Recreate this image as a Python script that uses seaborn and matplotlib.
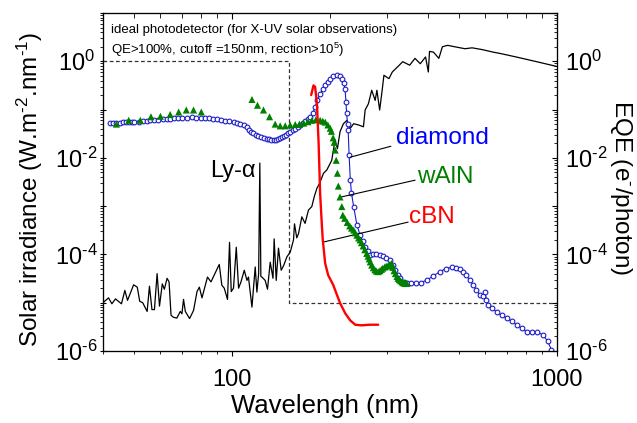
import numpy as np
import pandas as pd
import matplotlib
matplotlib.use("Agg")
import matplotlib.pyplot as plt
import seaborn as sns
from matplotlib.ticker import LogLocator, FuncFormatter, NullFormatter

# ---------------- data ----------------
ideal_wl = [40, 150, 150, 1000]
ideal_val = [1.0, 1.0, 1e-5, 1e-5]

solar_wl = [40, 41.6, 42.6, 43.7, 45.6, 46.7, 47.6, 49.7, 51.0, 51.9,
            53.0, 54.7, 55.6, 56.6, 57.6, 58.7, 59.7, 60.9, 61.8, 63.0,
            63.9, 64.8, 65.9, 67.5, 69.2, 70.0, 70.8, 71.7, 73.9, 76.0,
            77.9, 79.2, 80.7, 83.9, 86.0, 91.2, 92.9, 94.5, 96.7, 98.1,
            99.3, 100.9, 102.9, 104.6, 106.4, 108.9, 111.0, 112.2, 115.0, 117.7,
            119.1, 120.6, 121.6, 122.5, 123.4, 126.3, 128.4, 130.9, 133.5, 134.6,
            136.6, 138.8, 141.5, 144.0, 147.3, 150.9, 154.4, 155.5, 158.0, 160.0,
            163.8, 167.6, 171.7, 175.8, 179.0, 182.3, 185.7, 191.0, 195.5, 202.5,
            207.3, 210.8, 214.8, 220.0, 225.6, 230.9, 236.5, 244.8, 253.5, 256.6,
            262.6, 268.8, 275.5, 278.9, 284.4, 289.5, 293.1, 303.8, 311.1, 326.8,
            334.9, 351.9, 365.3, 379.3, 393.8, 401.6, 405.0, 416.5, 432.7, 443.7,
            460.7, 483.9, 520.9, 547.7, 590.0, 635.0, 669.0, 748.0, 866.0, 1000.0]
solar_val = [1.0e-5, 1.26e-5, 9.5e-6, 1.2e-5, 9.5e-6, 1.8e-5, 1.12e-5, 2.35e-5, 2.1e-5, 1.07e-5,
             1.0e-5, 6.6e-6, 2.2e-5, 7.2e-6, 7.2e-6, 4.0e-5, 8.5e-6, 2.45e-5, 1.9e-5, 3.2e-5,
             2.7e-5, 5.5e-6, 5.0e-6, 4.8e-6, 6.6e-6, 5.9e-6, 1.17e-5, 6.6e-6, 4.7e-6, 6.9e-6,
             1.7e-5, 2.1e-5, 1.26e-5, 3.4e-5, 2.7e-5, 6.2e-5, 2.3e-5, 2.0e-5, 1.17e-5, 1.78e-4,
             1.7e-5, 2.0e-5, 1.41e-4, 2.0e-5, 2.7e-5, 4.7e-5, 2.9e-5, 3.4e-5, 8.1e-6, 5.5e-5,
             1.66e-5, 4.0e-5, 7.8e-3, 3.5e-5, 3.4e-5, 2.9e-5, 1.9e-5, 6.9e-5, 3.2e-5, 2.1e-4,
             2.9e-5, 1.35e-4, 4.7e-5, 5.9e-5, 8.9e-5, 1.12e-4, 2.0e-4, 4.3e-4, 2.2e-4, 2.7e-4,
             6.0e-4, 4.4e-4, 8.3e-4, 9.8e-4, 1.6e-3, 2.35e-3, 2.95e-3, 4.8e-3, 5.6e-3, 8.9e-3,
             2.35e-2, 1.55e-2, 3.5e-2, 5.1e-2, 6.0e-2, 4.1e-2, 5.1e-2, 4.8e-2, 4.4e-2, 9.8e-2,
             0.132, 0.251, 0.155, 0.251, 0.098, 0.251, 0.513, 0.437, 0.60, 0.83,
             0.98, 0.83, 1.15, 0.89, 1.23, 0.60, 1.6, 1.55, 1.15, 2.0,
             2.14, 2.0, 1.82, 1.9, 1.74, 1.55, 1.45, 1.23, 0.98, 0.78]

diamond_wl = [42, 43, 44, 45, 46, 47, 48, 49, 50, 51.5,
              53, 54.5, 56, 57.5, 59, 61, 63, 64.5, 66, 68,
              70, 72.5, 75, 77.5, 80, 82.5, 85, 87.5, 90, 92.5,
              95, 98, 101, 103.5, 106, 108.5, 111, 113, 114.5, 116,
              118, 120, 122.5, 125, 127.5, 130, 132, 134, 136, 138,
              140, 142, 144, 146, 148.5, 151, 153.5, 156, 159, 162,
              165, 168, 171, 174, 177, 180, 183, 186.5, 190, 193,
              197, 200, 205, 210, 214, 217.6, 220.5, 222.5, 224, 225,
              226.5, 227.5, 229, 231, 232.8, 236.5, 242, 247.6, 252, 256.6,
              261, 265.7, 271, 278, 285, 291, 298, 306, 312, 318,
              323, 329, 337, 345, 355, 367, 380, 398, 415, 436,
              455, 474, 490, 503, 515, 526, 538, 552, 565, 579,
              590, 600, 606, 614, 632, 652, 675, 700, 725, 751,
              778, 806, 836, 866, 906, 935, 961]
diamond_val = [5.25e-2, 5.25e-2, 5.3e-2, 5.35e-2, 5.4e-2, 5.4e-2, 5.45e-2, 5.5e-2, 5.5e-2, 5.6e-2,
               5.75e-2, 5.9e-2, 6.0e-2, 6.1e-2, 6.2e-2, 6.35e-2, 6.45e-2, 6.5e-2, 6.6e-2, 6.7e-2,
               6.8e-2, 6.85e-2, 6.9e-2, 6.85e-2, 6.8e-2, 6.7e-2, 6.6e-2, 6.45e-2, 6.3e-2, 6.1e-2,
               5.9e-2, 5.7e-2, 5.5e-2, 5.25e-2, 5.0e-2, 4.75e-2, 4.4e-2, 3.8e-2, 3.4e-2, 3.2e-2,
               3.0e-2, 2.8e-2, 2.7e-2, 2.6e-2, 2.5e-2, 2.4e-2, 2.37e-2, 2.35e-2, 2.38e-2, 2.45e-2,
               2.55e-2, 2.7e-2, 2.85e-2, 3.0e-2, 3.25e-2, 3.5e-2, 3.75e-2, 4.0e-2, 4.4e-2, 4.8e-2,
               5.25e-2, 5.75e-2, 6.4e-2, 7.1e-2, 8.5e-2, 0.112, 0.158, 0.214, 0.263, 0.316,
               0.38, 0.437, 0.49, 0.513, 0.49, 0.437, 0.355, 0.27, 0.141, 0.083,
               0.05, 0.037, 1.15e-2, 3.5e-3, 1.9e-3, 9.8e-4, 4.1e-4, 2.5e-4, 1.86e-4, 1.45e-4,
               1.17e-4, 9.8e-5, 1.0e-4, 1.0e-4, 9.8e-5, 9.3e-5, 8.5e-5, 7.6e-5, 6.0e-5, 4.8e-5,
               3.8e-5, 3.2e-5, 2.7e-5, 2.5e-5, 2.5e-5, 2.5e-5, 2.6e-5, 2.95e-5, 3.55e-5, 4.4e-5,
               5.1e-5, 5.4e-5, 5.25e-5, 4.9e-5, 4.4e-5, 3.7e-5, 3.0e-5, 2.35e-5, 1.8e-5, 1.45e-5,
               1.4e-5, 1.7e-5, 1.12e-5, 8.9e-6, 7.6e-6, 6.45e-6, 5.5e-6, 4.8e-6, 4.1e-6, 3.5e-6,
               2.95e-6, 2.5e-6, 2.5e-6, 2.5e-6, 2.15e-6, 1.6e-6, 1.07e-6]

waln_wl = [44.0, 48.0, 52.1, 56.2, 60.1, 64.4, 68.4, 72.2, 76.0, 80.3,
           115.0, 119.6, 124.8, 130.3, 135.6, 140.5, 145.6, 150.8, 156.3, 161,
           166, 171, 176, 181, 186.5, 190, 193.3, 197, 200.3, 202,
           204.5, 206, 207.5, 209, 210.8, 212.2, 214.7, 217.5, 219, 222,
           226, 230, 233, 236.5, 239, 242, 245, 247.6, 250, 253,
           256, 259.6, 262, 264, 266, 268.8, 272, 275, 278, 281.5,
           285, 288, 291, 295, 298, 302, 306, 309.6, 312, 315,
           318, 321.6, 324, 327, 330, 333.3, 336, 339, 342, 345]
waln_val = [5.0e-2, 6.0e-2, 6.0e-2, 7.1e-2, 7.25e-2, 7.9e-2, 8.9e-2, 9.8e-2, 9.8e-2, 8.9e-2,
            0.162, 0.123, 0.098, 0.071, 0.050, 0.046, 0.046, 0.048, 0.049, 0.050,
            0.0525, 0.056, 0.060, 0.062, 0.060, 0.0575, 0.055, 0.048, 0.041, 0.0355,
            0.026, 0.021, 0.0145, 8.9e-3, 4.8e-3, 2.6e-3, 1.55e-3, 9.8e-4, 6.5e-4, 5.6e-4,
            4.6e-4, 3.9e-4, 3.5e-4, 3.2e-4, 2.8e-4, 2.5e-4, 2.2e-4, 2.0e-4, 1.75e-4, 1.5e-4,
            1.25e-4, 1.05e-4, 9.2e-5, 8.1e-5, 7.0e-5, 6.0e-5, 5.3e-5, 4.8e-5, 4.5e-5, 4.4e-5,
            4.6e-5, 4.9e-5, 5.2e-5, 5.5e-5, 5.7e-5, 5.9e-5, 6.2e-5, 6.5e-5, 5.4e-5, 4.6e-5,
            4.0e-5, 3.5e-5, 3.2e-5, 3.0e-5, 2.85e-5, 2.7e-5, 2.6e-5, 2.55e-5, 2.5e-5, 2.5e-5]

cbn_wl = [175.0, 177.9, 180.0, 182.3, 184.5, 186.5, 188.8, 190.0, 193.3, 197.5,
          204.5, 214.8, 222.9, 230.9, 239.2, 250, 265, 281.5]
cbn_val = [0.20, 0.316, 0.295, 0.132, 0.020, 1.8e-3, 4.0e-4, 2.0e-4, 6.5e-5, 3.7e-5,
           2.35e-5, 9.8e-6, 6.0e-6, 4.3e-6, 3.5e-6, 3.4e-6, 3.5e-6, 3.5e-6]

HY = "\u2010"  # short hyphen used in the superscripts
box_lines = ["ideal photodetector (for X-UV solar observations)",
             "QE>100%, cutoff =150nm, rection>10$^5$)"]

# ---------------- style ----------------
sns.set_style("ticks")
plt.rcParams.update({
    "font.family": ["Liberation Sans", "DejaVu Sans"],
    "mathtext.fontset": "custom",
    "mathtext.rm": "Liberation Sans",
    "mathtext.it": "Liberation Sans:italic",
    "mathtext.bf": "Liberation Sans:bold",
    "mathtext.fallback": "stixsans",
    "axes.edgecolor": "black",
    "axes.linewidth": 0.8,
    "text.color": "black",
    "axes.labelcolor": "black",
    "xtick.color": "black",
    "ytick.color": "black",
})

fig = plt.figure(figsize=(6.37, 4.23), dpi=100)
ax = fig.add_axes([103 / 637, 72 / 423, 454 / 637, 338 / 423])
ax.set_xscale("log")
ax.set_yscale("log")

df_ideal = pd.DataFrame({"wl": ideal_wl, "v": ideal_val})
df_solar = pd.DataFrame({"wl": solar_wl, "v": solar_val})
df_dia = pd.DataFrame({"wl": diamond_wl, "v": diamond_val})
df_waln = pd.DataFrame({"wl": waln_wl, "v": waln_val})
df_cbn = pd.DataFrame({"wl": cbn_wl, "v": cbn_val})

sns.lineplot(data=df_ideal, x="wl", y="v", ax=ax, estimator=None, sort=False,
             color="#333333", lw=0.9, legend=False, linestyle=(0, (3, 2)))
sns.lineplot(data=df_solar, x="wl", y="v", ax=ax, estimator=None, sort=False,
             color="black", lw=0.9, legend=False)
sns.lineplot(data=df_dia, x="wl", y="v", ax=ax, estimator=None, sort=False,
             color="#1c1cc8", lw=0.8, marker="o", markersize=3.4,
             markerfacecolor="white", markeredgecolor="#1c1cc8", markeredgewidth=0.8,
             legend=False)
sns.scatterplot(data=df_waln, x="wl", y="v", ax=ax, marker="^", s=26,
                color="#008000", edgecolor="none", legend=False, zorder=4)
sns.lineplot(data=df_cbn, x="wl", y="v", ax=ax, estimator=None, sort=False,
             color="#ff0000", lw=1.7, legend=False, zorder=5)

ax.set_xlim(40, 1000)
ax.set_ylim(1e-6, 10)


def yfmt(v, p):
    e = int(round(np.log10(v)))
    if e % 2:
        return ""
    s = str(e).replace("-", HY)
    return f"$10^{{{s}}}$"


# ticks: bottom/left
ax.xaxis.set_major_locator(LogLocator(base=10, numticks=10))
ax.xaxis.set_minor_locator(LogLocator(base=10, subs=np.arange(2, 10), numticks=100))
ax.xaxis.set_major_formatter(FuncFormatter(lambda v, p: f"{v:g}"))
ax.xaxis.set_minor_formatter(NullFormatter())
ax.yaxis.set_major_locator(LogLocator(base=10, subs=(1.0,), numticks=20))
ax.yaxis.set_minor_locator(LogLocator(base=10, subs=np.arange(2, 10), numticks=100))
ax.yaxis.set_major_formatter(FuncFormatter(yfmt))
ax.yaxis.set_minor_formatter(NullFormatter())
ax.tick_params(axis="x", which="major", direction="out", length=3.6, width=0.8,
               labelsize=17, pad=9)
ax.tick_params(axis="x", which="minor", direction="out", length=2.2, width=0.6)
ax.tick_params(axis="y", which="major", direction="inout", length=5, width=0.8,
               labelsize=17, pad=16.5)
ax.tick_params(axis="y", which="minor", direction="out", length=2.0, width=0.6)
for lbl in ax.get_yticklabels():
    lbl.set_horizontalalignment("center")

# right axis (EQE)
ax2 = ax.twinx()
ax2.set_yscale("log")
ax2.set_ylim(ax.get_ylim())
ax2.yaxis.set_major_locator(LogLocator(base=10, subs=(1.0,), numticks=20))
ax2.yaxis.set_minor_locator(LogLocator(base=10, subs=np.arange(2, 10), numticks=100))
ax2.yaxis.set_major_formatter(FuncFormatter(yfmt))
ax2.yaxis.set_minor_formatter(NullFormatter())
ax2.tick_params(axis="y", which="major", direction="in", length=3.8, width=0.8,
                labelsize=17, pad=5.8)
ax2.tick_params(axis="y", which="minor", direction="in", length=2.2, width=0.6)

# top ticks
ax3 = ax.twiny()
ax3.set_xscale("log")
ax3.set_xlim(ax.get_xlim())
ax3.xaxis.set_major_locator(LogLocator(base=10, numticks=10))
ax3.xaxis.set_minor_locator(LogLocator(base=10, subs=np.arange(2, 10), numticks=100))
ax3.xaxis.set_major_formatter(NullFormatter())
ax3.xaxis.set_minor_formatter(NullFormatter())
ax3.tick_params(axis="x", which="major", direction="in", length=4.5, width=0.8)
ax3.tick_params(axis="x", which="minor", direction="in", length=3.5, width=0.6)

# axis labels
ax.set_xlabel("Wavelengh (nm)", fontsize=18.5, va="center")
ax.xaxis.set_label_coords(0.49, -0.163)
ax.set_ylabel(f"Solar irradiance (W.m$^{{{HY}2}}$.nm$^{{{HY}1}}$)", fontsize=17.5,
              va="center")
ax.yaxis.set_label_coords(-0.161, 0.478)
ax2.set_ylabel(f"EQE (e$^{{{HY}}}$/photon)", fontsize=17.5, rotation=270, va="center")
ax2.yaxis.set_label_coords(1.141, 0.484)

# texts
ax.text(0.018, 0.95, box_lines[0], transform=ax.transAxes, fontsize=9.5,
        ha="left", va="center")
ax.text(0.018, 0.89, box_lines[1], transform=ax.transAxes, fontsize=9.5,
        ha="left", va="center")
ax.text(100.5, 5.3e-3, "Ly-\u03b1", fontsize=17, ha="center", va="center")

ax.text(443, 2.55e-2, "diamond", color="#0000ff", fontsize=17.5, ha="center", va="center")
ax.text(452, 3.98e-3, "wAlN", color="#008000", fontsize=17.5, ha="center", va="center")
ax.text(412, 5.9e-4, "cBN", color="#ff0000", fontsize=17.5, ha="center", va="center")

lp = dict(arrowstyle="-", color="black", lw=0.8, shrinkA=0, shrinkB=0)
ax.annotate("", xy=(230.7, 1.03e-2), xytext=(308, 1.74e-2), arrowprops=lp)
ax.annotate("", xy=(214.8, 1.53e-3), xytext=(365.6, 3.45e-3), arrowprops=lp)
ax.annotate("", xy=(190.5, 1.8e-4), xytext=(348, 4.67e-4), arrowprops=lp)

fig.savefig("out.png", dpi=100)
